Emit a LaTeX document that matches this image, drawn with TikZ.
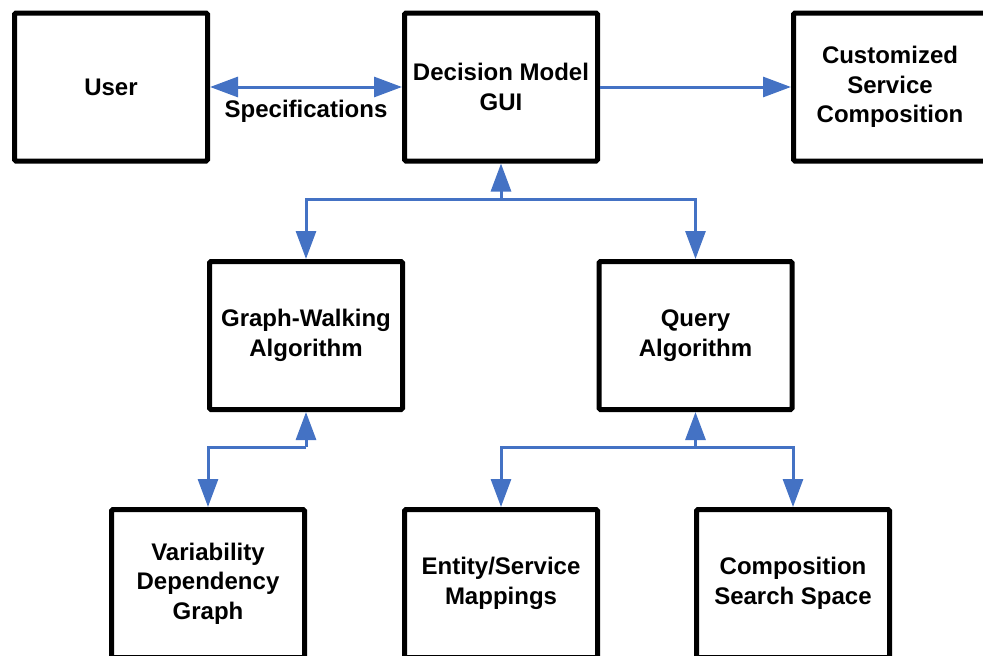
\documentclass[tikz,border=0pt]{standalone}
\usepackage{fontspec}
\setmainfont{Liberation Sans}
\usetikzlibrary{arrows.meta}
\definecolor{arrblue}{HTML}{4472C4}
\begin{document}
\begin{tikzpicture}[x=1pt,y=-1pt,
  box/.style={draw=black, line width=5pt, rounded corners=1.5pt, minimum width=193pt, minimum height=148pt,
    inner sep=0pt, align=center, font=\fontsize{24}{29.5}\selectfont\bfseries},
  conn/.style={draw=arrblue, line width=3pt, -{Triangle[length=28pt,width=20pt]}},
  conn2/.style={draw=arrblue, line width=3pt, {Triangle[length=28pt,width=20pt]}-{Triangle[length=28pt,width=20pt]}},
  lbl/.style={font=\fontsize{24}{29.5}\selectfont\bfseries, inner sep=0pt}]
\useasboundingbox (0,0) rectangle (983,656);
\node[box] (user) at (111,87) {User};
\node[box] (gui) at (501,87) {Decision Model\\GUI};
\node[box] (cust) at (890,87) {Customized\\Service\\Composition};
\node[box] (gw) at (306,335.5) {Graph-Walking\\Algorithm};
\node[box] (q) at (695.5,335.5) {Query\\Algorithm};
\node[box] (var) at (208,583.5) {Variability\\Dependency\\Graph};
\node[box] (ent) at (501,583.5) {Entity/Service\\Mappings};
\node[box] (css) at (793,583.5) {Composition\\Search Space};

\draw[conn2] (user.east) -- (gui.west);
\node[lbl, anchor=base] (spec) at (306,117) {Specifications};
\draw[conn] (gui.east) -- (cust.west);

\coordinate (j1) at (501,199);
\draw[conn] (j1) -- (gui.south);
\draw[conn] (j1) -| (gw.north);
\draw[conn] (j1) -| (q.north);

\coordinate (j2) at (306,447);
\draw[conn] (j2) -- (gw.south);
\draw[conn] (j2) -| (var.north);

\coordinate (j3) at (695.5,447);
\draw[conn] (j3) -- (q.south);
\draw[conn] (j3) -| (ent.north);
\draw[conn] (j3) -| (css.north);
\end{tikzpicture}
\end{document}
